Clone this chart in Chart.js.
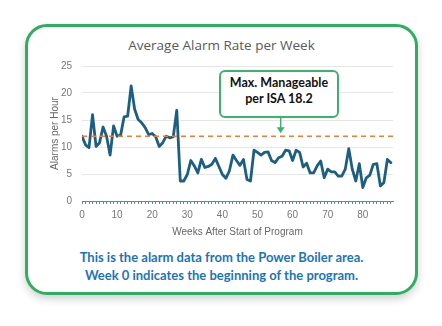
<!DOCTYPE html>
<html>
<head>
<meta charset="utf-8">
<script src="https://cdn.jsdelivr.net/npm/chart.js@4"></script>
<style>
  html, body { margin: 0; padding: 0; background: #fff; }
  #wrap { position: relative; width: 442px; height: 326px; overflow: hidden; font-family: Lato, "Open Sans", sans-serif; }
  #card {
    position: absolute; left: 25px; top: 24px; width: 387px; height: 265px;
    border: 3px solid #2fae62; border-radius: 22px; background: #fff;
    box-shadow: 0 4px 8px rgba(0,0,0,0.18);
  }
  #title {
    position: absolute; left: 25px; top: 36px; width: 393px; text-align: center;
    color: #595959; font-family: "Open Sans", sans-serif; font-size: 13.5px;
  }
  #chartBox { position: absolute; left: 30px; top: 32px; width: 378px; height: 209px; }
  #note {
    position: absolute; left: 219px; top: 70px; width: 116px; height: 41px;
    border: 2px solid #3bb46b; border-radius: 6px; background: #fff;
    font-weight: bold; font-size: 12.5px; color: #111; text-align: center; line-height: 16px;
    padding-top: 3px; box-sizing: content-box;
  }
  #caption {
    position: absolute; left: 25px; top: 249px; width: 393px; text-align: center;
    color: #1b74bb; font-weight: bold; font-size: 13px; line-height: 17.5px;
  }
</style>
</head>
<body>
<div id="wrap">
  <div id="card"></div>
  <div id="title">Average Alarm Rate per Week</div>
  <div id="chartBox"><canvas id="alarmChart"></canvas></div>
  <div id="note">Max. Manageable<br>per ISA 18.2</div>
  <div id="caption">This is the alarm data from the Power Boiler area.<br>Week 0 indicates the beginning of the program.</div>
</div>
<script>
// Data
const weeks = [];
for (let w = 0; w <= 88; w++) weeks.push(w);
const alarmRate = [
  12.0, 10.4, 9.9, 16.0, 10.1, 10.8, 13.7, 12.0, 8.5, 13.9,
  12.0, 12.2, 15.6, 15.7, 21.3, 17.0, 15.1, 14.5, 13.6, 12.3,
  12.5, 11.9, 10.1, 10.8, 12.0, 11.7, 11.9, 16.8, 3.7, 3.7,
  4.9, 7.5, 6.5, 5.2, 7.7, 6.2, 6.4, 6.8, 7.9, 6.4,
  4.9, 4.2, 5.6, 8.5, 7.5, 6.6, 7.7, 4.0, 3.7, 9.4,
  9.0, 8.5, 9.0, 9.1, 7.5, 7.1, 8.0, 8.3, 9.4, 9.3,
  7.5, 9.4, 9.0, 6.3, 7.0, 5.2, 5.2, 6.5, 7.4, 4.3,
  5.9, 5.4, 5.4, 4.6, 4.6, 5.9, 9.7, 5.9, 3.7, 6.9,
  2.5, 4.3, 4.8, 6.8, 6.9, 2.8, 3.4, 7.7, 7.1
];
const yTicks = [0, 5, 10, 15, 20, 25];
const xLabelStep = 10;
const THRESHOLD = 12;
const ARROW_WEEK = 56.6;

// threshold line + arrow from the note box
const thresholdPlugin = {
  id: 'threshold',
  afterDatasetsDraw(chart) {
    const { ctx, chartArea, scales } = chart;
    const y = scales.y.getPixelForValue(THRESHOLD);
    ctx.save();
    ctx.strokeStyle = '#f27b3a';
    ctx.lineWidth = 1.5;
    ctx.setLineDash([5, 4]);
    ctx.beginPath();
    ctx.moveTo(chartArea.left, y);
    ctx.lineTo(chartArea.right, y);
    ctx.stroke();

    // arrow
    const ax = scales.x.getPixelForValue(ARROW_WEEK);
    ctx.setLineDash([]);
    ctx.strokeStyle = '#3bb46b';
    ctx.fillStyle = '#3bb46b';
    ctx.lineWidth = 1.5;
    const top = 113 - 32;
    ctx.beginPath();
    ctx.moveTo(ax, top);
    ctx.lineTo(ax, y - 8);
    ctx.stroke();
    ctx.beginPath();
    ctx.moveTo(ax - 4, y - 9);
    ctx.lineTo(ax + 4, y - 9);
    ctx.lineTo(ax, y - 3);
    ctx.closePath();
    ctx.fill();
    ctx.restore();
  }
};

const ctx = document.getElementById('alarmChart').getContext('2d');
new Chart(ctx, {
  type: 'line',
  data: {
    labels: weeks,
    datasets: [{
      data: alarmRate,
      borderColor: '#1d5f82',
      borderWidth: 2.8,
      borderJoinStyle: 'round',
      borderCapStyle: 'round',
      pointRadius: 0,
      tension: 0,
      fill: false
    }]
  },
  options: {
    responsive: true,
    maintainAspectRatio: false,
    animation: false,
    layout: { padding: { left: 19, right: 15, top: 34, bottom: 3 } },
    scales: {
      x: {
        type: 'linear',
        min: 0,
        max: 88.6,
        afterBuildTicks(axis) {
          axis.ticks = weeks.map(v => ({ value: v }));
        },
        ticks: {
          autoSkip: false,
          maxRotation: 0,
          color: '#777',
          font: { size: 10 },
          padding: 5,
          callback: v => (v % xLabelStep === 0 ? String(v) : '')
        },
        grid: {
          drawOnChartArea: false,
          drawTicks: true,
          tickLength: 3,
          color: '#4f8db3'
        },
        border: { display: true, color: '#4f8db3', width: 1 },
        title: {
          display: true,
          text: 'Weeks After Start of Program',
          color: '#666',
          font: { size: 10 },
          padding: { top: 0, bottom: 0 }
        }
      },
      y: {
        min: 0,
        max: 25,
        afterBuildTicks(axis) {
          axis.ticks = yTicks.map(v => ({ value: v }));
        },
        afterFit(axis) {
          axis.width = 33;
        },
        ticks: { color: '#777', font: { size: 10 }, padding: 10 },
        grid: { color: '#e6e6e6', lineWidth: 1, drawTicks: false },
        border: { display: false },
        title: {
          display: true,
          text: 'Alarms per Hour',
          color: '#666',
          font: { size: 10 },
          padding: { top: 0, bottom: 0 }
        }
      }
    },
    plugins: {
      legend: { display: false },
      tooltip: { enabled: false },
      title: { display: false }
    }
  },
  plugins: [thresholdPlugin]
});
</script>
</body>
</html>
